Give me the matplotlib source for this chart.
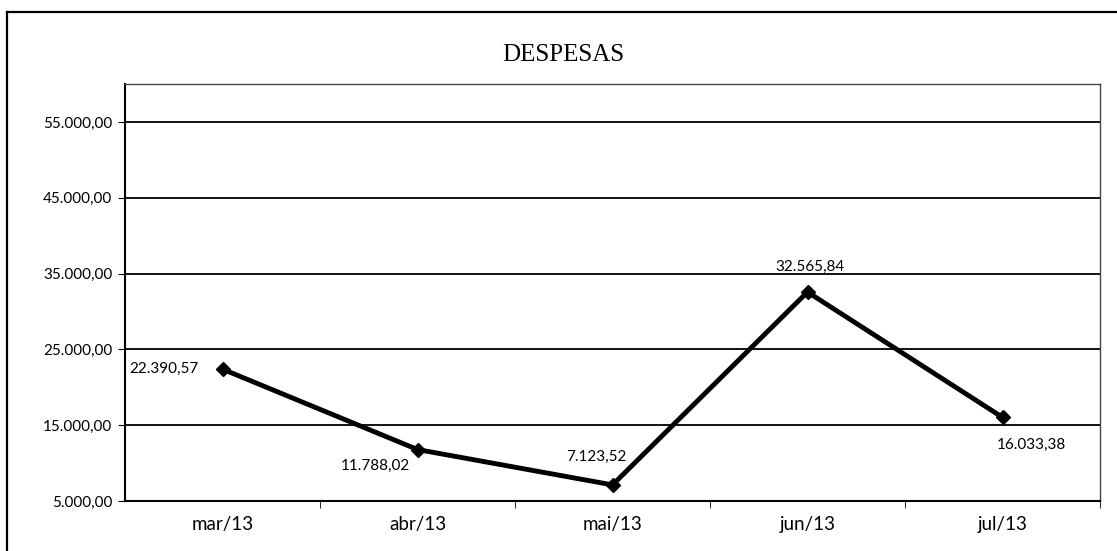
import matplotlib
matplotlib.use("Agg")
import matplotlib.pyplot as plt
from matplotlib.lines import Line2D
from matplotlib.ticker import FixedLocator, FuncFormatter

categories = ["mar/13", "abr/13", "mai/13", "jun/13", "jul/13"]
values = [22390.57, 11788.02, 7123.52, 32565.84, 16033.38]
yticks = [5000, 15000, 25000, 35000, 45000, 55000]
title = "DESPESAS"

def br(v):
    s = f"{v:,.2f}"
    return s.replace(",", "X").replace(".", ",").replace("X", ".")

W, H = 1117, 551
fig = plt.figure(figsize=(W / 100, H / 100), dpi=100)
ax = fig.add_axes([125 / W, 1 - 501 / H, (1100 - 125) / W, (501 - 84) / H])

font = ["Lato", "DejaVu Sans"]
x = list(range(len(categories)))
ax.plot(x, values, color="black", lw=3.5, marker="D", ms=7, zorder=3)

ax.set_xlim(-0.5, len(categories) - 0.5)
ax.set_ylim(5000, 60000)
ax.yaxis.set_major_locator(FixedLocator(yticks))
ax.yaxis.set_major_formatter(FuncFormatter(lambda v, p: br(v)))
ax.grid(axis="y", color="black", lw=1.3)
ax.set_axisbelow(True)

ax.set_xticks(x)
ax.set_xticklabels(categories, fontsize=13.5, family=font)
ax.tick_params(axis="x", which="major", length=0, pad=11)
ax.set_xticks([i + 0.5 for i in range(len(categories))], minor=True)
ax.tick_params(axis="x", which="minor", length=5, direction="out", color="black")
ax.tick_params(axis="y", length=5, direction="out", labelsize=11, pad=4)
for lab in ax.get_yticklabels():
    lab.set_family(font)

for s in ["left", "bottom"]:
    ax.spines[s].set_color("black")
    ax.spines[s].set_linewidth(1.5)
for s in ["top", "right"]:
    ax.spines[s].set_color("#444444")
    ax.spines[s].set_linewidth(1.0)
    ax.spines[s].set_linestyle((0, (4, 1)))

offsets = [(-59, 0), (-42, -16), (-16, 28), (2, 25), (29, -28)]
for i, (v, (dx, dy)) in enumerate(zip(values, offsets)):
    ax.annotate(br(v), (i, v), xytext=(dx, dy), textcoords="offset pixels",
                ha="center", va="center", fontsize=11, family=font)

fig.text(563 / W, 1 - 55 / H, title, ha="center", va="center",
         fontsize=18, family=["Liberation Serif", "DejaVu Serif"])

fig.add_artist(Line2D([7 / W, 1], [1 - 12 / H, 1 - 12 / H], color="black", lw=1.6,
                      transform=fig.transFigure))
fig.add_artist(Line2D([7 / W, 7 / W], [0, 1 - 12 / H], color="black", lw=1.6,
                      transform=fig.transFigure))

fig.savefig("out.png", dpi=100)
